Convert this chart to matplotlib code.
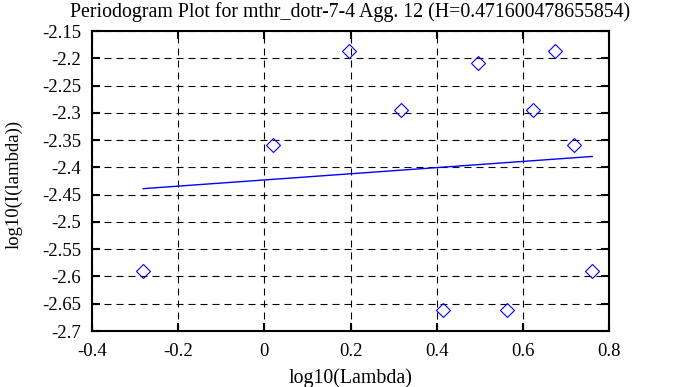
import matplotlib
matplotlib.use('Agg')
import matplotlib.pyplot as plt
import numpy as np

# periodogram points
log_lambda = [-0.281, 0.021, 0.197, 0.318, 0.415, 0.495, 0.564, 0.623, 0.674, 0.719, 0.761]
log_I = [-2.5895, -2.359, -2.187, -2.294, -2.662, -2.2086, -2.662, -2.294, -2.1875, -2.359, -2.5896]

# fitted line end points
fit_x = [-0.281, 0.761]
fit_y = [-2.439, -2.380]

title_txt = 'Periodogram Plot for mthr_dotr-7-4 Agg. 12 (H=0.471600478655854)'
xtick_lbl = ['-0.4', '-0.2', '0', '0.2', '0.4', '0.6', '0.8']
ytick_lbl = ['-2.7', '-2.65', '-2.6', '-2.55', '-2.5', '-2.45', '-2.4',
             '-2.35', '-2.3', '-2.25', '-2.2', '-2.15']

plt.rcParams['font.family'] = ['Liberation Serif', 'DejaVu Serif']

fig = plt.figure(figsize=(6.78, 3.87), dpi=100)
ax = fig.add_axes([92/678, 1-331/387, (609-92)/678, (331-31)/387])

ax.plot(log_lambda, log_I, 'D', mfc='none', mec='blue', ms=7.6, mew=0.8, zorder=3)
ax.plot(fit_x, fit_y, color='blue', lw=1.0, zorder=3)

ax.set_xlim(-0.4, 0.8)
ax.set_ylim(-2.7, -2.15)
ax.set_xticks(np.arange(-0.4, 0.81, 0.2))
ax.set_xticklabels(xtick_lbl, fontsize=13.5)
ax.set_yticks(np.arange(-2.7, -2.149, 0.05))
ax.set_yticklabels(ytick_lbl, fontsize=13.5)
ax.tick_params(direction='in', length=6, width=1.5, top=True, right=True)
ax.tick_params(axis='x', pad=9)
ax.tick_params(axis='y', pad=8)
ax.grid(True, color='black', linestyle=(0, (6.3, 4.5)), linewidth=0.8)
for s in ax.spines.values():
    s.set_linewidth(1.5)

ax.set_title(title_txt, fontsize=14.3, pad=10)
ax.set_xlabel('log10(Lambda)', fontsize=14.3)
ax.set_ylabel('log10(I(lambda))', fontsize=13.5)
ax.xaxis.set_label_coords(0.5, -0.125)
ax.yaxis.set_label_coords(-0.135, 0.487)

fig.savefig('out.png', dpi=100)
